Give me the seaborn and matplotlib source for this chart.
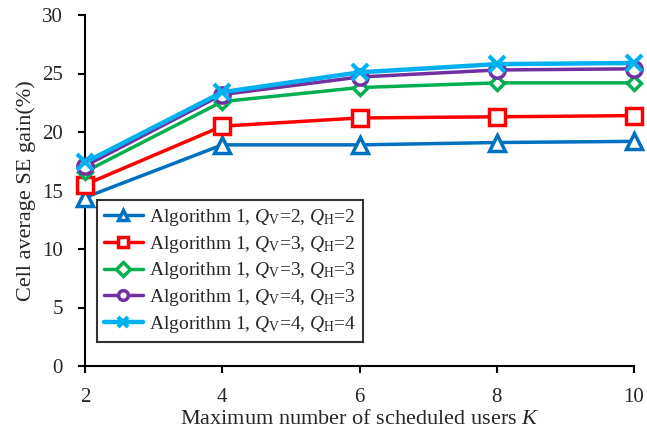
import pandas as pd
import seaborn as sns
import matplotlib.pyplot as plt

# values
users_k = [2, 4, 6, 8, 10]
q22 = [14.4, 18.9, 18.9, 19.1, 19.2]
q32 = [15.5, 20.5, 21.2, 21.3, 21.4]
q33 = [16.6, 22.6, 23.8, 24.2, 24.2]
q43 = [17.1, 23.2, 24.7, 25.3, 25.4]
q44 = [17.4, 23.4, 25.1, 25.8, 25.9]
labels = [
    r"Algorithm 1, $Q_{\mathrm{V}}$=2, $Q_{\mathrm{H}}$=2",
    r"Algorithm 1, $Q_{\mathrm{V}}$=3, $Q_{\mathrm{H}}$=2",
    r"Algorithm 1, $Q_{\mathrm{V}}$=3, $Q_{\mathrm{H}}$=3",
    r"Algorithm 1, $Q_{\mathrm{V}}$=4, $Q_{\mathrm{H}}$=3",
    r"Algorithm 1, $Q_{\mathrm{V}}$=4, $Q_{\mathrm{H}}$=4",
]

sns.set_style("white")
plt.rcParams["font.family"] = ["Liberation Serif", "DejaVu Serif"]
plt.rcParams["mathtext.fontset"] = "custom"
plt.rcParams["mathtext.rm"] = "Liberation Serif"
plt.rcParams["mathtext.it"] = "Liberation Serif:italic"

df = pd.DataFrame({"K": users_k * 5,
                   "gain": q22 + q32 + q33 + q43 + q44,
                   "series": [l for l in labels for _ in users_k]})

colors = ["#0070C0", "#FF0000", "#00B050", "#7030A0", "#00B0F0"]
markers = ["^", "s", "D", "o", "x"]
msizes = [11, 11, 7, 11, 11]
lwidths = [2.5, 2.5, 2.5, 2.5, 3.2]

fig = plt.figure(figsize=(6.47, 4.41), dpi=100)
ax = fig.add_axes([85 / 647, 1 - 366 / 441, 549 / 647, 351 / 441])

for lab, c, m, ms, lw in zip(labels, colors, markers, msizes, lwidths):
    sub = df[df.series == lab]
    sns.lineplot(data=sub, x="K", y="gain", ax=ax, color=c, marker=m,
                 markersize=ms, markerfacecolor="white" if m != "x" else c,
                 markeredgecolor=c, markeredgewidth=2.5 if m != "x" else 3,
                 linewidth=lw, label=lab, clip_on=False, zorder=3)

ax.set_xlim(2, 10)
ax.set_ylim(0, 30)
ax.set_xticks(users_k)
ax.set_yticks(range(0, 31, 5))
ax.tick_params(axis="both", direction="out", length=5, width=1.5, pad=11,
               labelsize=15, color="black", left=True, bottom=True)
for side in ["top", "right"]:
    ax.spines[side].set_visible(False)
for side in ["left", "bottom"]:
    ax.spines[side].set_color("black")
    ax.spines[side].set_linewidth(1.5)

ax.set_xlabel("Maximum number of scheduled users $K$", fontsize=16, labelpad=2)
ax.set_ylabel("Cell average SE gain(%)", fontsize=16, labelpad=4)

leg = ax.legend(loc="upper left", bbox_to_anchor=(0.022, 0.473), fontsize=14,
                frameon=True, fancybox=False, edgecolor="black",
                borderpad=0.35, labelspacing=0.3, handlelength=2.0,
                handletextpad=0.3, borderaxespad=0)
leg.get_frame().set_linewidth(1.5)
for h in leg.legend_handles:
    h.set_markersize(7)

fig.savefig("out.png", dpi=100)
